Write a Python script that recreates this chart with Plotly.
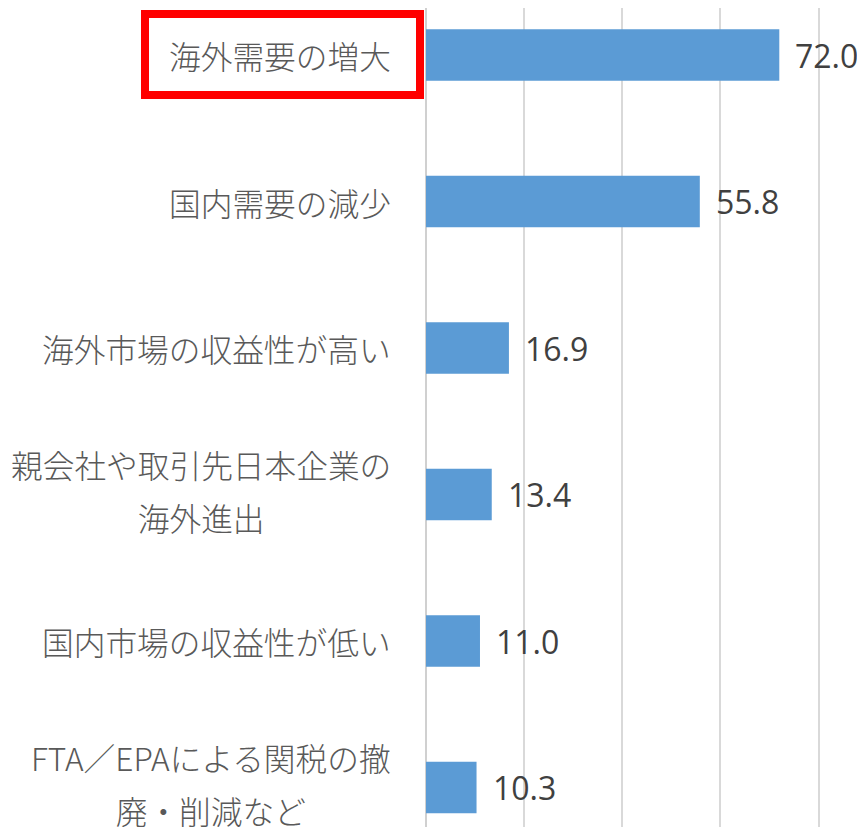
import plotly.graph_objects as go

# ---- data ----
categories = [
    "海外需要の増大",
    "国内需要の減少",
    "海外市場の収益性が高い",
    "親会社や取引先日本企業の海外進出",
    "国内市場の収益性が低い",
    "FTA／EPAによる関税の撤廃・削減など",
]
label_lines = [
    ["海外需要の増大"],
    ["国内需要の減少"],
    ["海外市場の収益性が高い"],
    ["親会社や取引先日本企業の", "海外進出"],
    ["国内市場の収益性が低い"],
    ["FTA／EPAによる関税の撤", "廃・削減など"],
]
values = [72.0, 55.8, 16.9, 13.4, 11.0, 10.3]
grid_ticks = [0, 20, 40, 60, 80]

# ---- styling / geometry (reference pixels) ----
PAGE_W, PAGE_H = 865, 827
OFF = 8                      # default body margin of the html page
W, H = PAGE_W - OFF, PAGE_H - OFF
LEFT_REF = 426               # x=0 position in page pixels
PX_PER_UNIT = 4.907
CAT_STEP = 146.5             # pixels per category
FIRST_CENTER = 55            # page y of first bar center
X_MAX = (PAGE_W - LEFT_REF) / PX_PER_UNIT
BAR_COLOR = "#5b9bd5"
LABEL_COLOR = "#595959"
VALUE_COLOR = "#404040"
CJK = "Noto Sans CJK JP"

fig = go.Figure()
fig.add_trace(go.Bar(
    x=values,
    y=categories,
    orientation="h",
    marker=dict(color=BAR_COLOR, line=dict(width=0)),
    width=0.352,
    hoverinfo="skip",
))

annotations = []
for cat, v in zip(categories, values):
    annotations.append(dict(
        x=v, y=cat, xref="x", yref="y",
        text=f"{v:.1f}", showarrow=False,
        xanchor="left", yanchor="middle", xshift=14,
        font=dict(family="Open Sans, Liberation Sans, sans-serif", size=32, color=VALUE_COLOR),
    ))

for cat, lines in zip(categories, label_lines):
    txt = "<br>".join(f"<span style='font-size:31.7px'>{ln}</span>" for ln in lines)
    annotations.append(dict(
        x=0, y=cat, xref="paper", yref="y",
        text=txt, showarrow=False, align="center",
        xanchor="right", yanchor="middle", xshift=-33,
        yshift=4 if len(lines) > 1 else 0,
        font=dict(family=CJK, size=41, color=LABEL_COLOR, weight=300),
    ))

def px_to_paper_x(px):
    return (px - LEFT_REF) / (PAGE_W - LEFT_REF)

def px_to_paper_y(py):
    return 1 - (py - OFF) / H

shapes = [dict(
    type="rect", xref="paper", yref="paper",
    x0=px_to_paper_x(145), x1=px_to_paper_x(420),
    y0=px_to_paper_y(95), y1=px_to_paper_y(14),
    line=dict(color="#ff0000", width=8),
    fillcolor="rgba(0,0,0,0)",
    layer="above",
)]

y_top = -(FIRST_CENTER - OFF) / CAT_STEP
y_bottom = (len(categories) - 1) + (PAGE_H - (FIRST_CENTER + (len(categories) - 1) * CAT_STEP)) / CAT_STEP

fig.update_layout(
    width=W, height=H,
    margin=dict(l=LEFT_REF - OFF, r=0, t=0, b=0),
    paper_bgcolor="white", plot_bgcolor="white",
    showlegend=False,
    annotations=annotations,
    shapes=shapes,
    xaxis=dict(
        range=[0, X_MAX],
        tickvals=grid_ticks,
        showticklabels=False,
        ticks="",
        showgrid=True, gridcolor="#d9d9d9", gridwidth=2,
        zeroline=True, zerolinecolor="#d0d0d0", zerolinewidth=2,
        showline=False,
        fixedrange=True,
    ),
    yaxis=dict(
        type="category",
        categoryorder="array", categoryarray=categories,
        range=[y_bottom, y_top],
        showticklabels=False, showgrid=False, zeroline=False, showline=False,
        ticks="",
        fixedrange=True,
    ),
)

fig.write_html("out.html")
